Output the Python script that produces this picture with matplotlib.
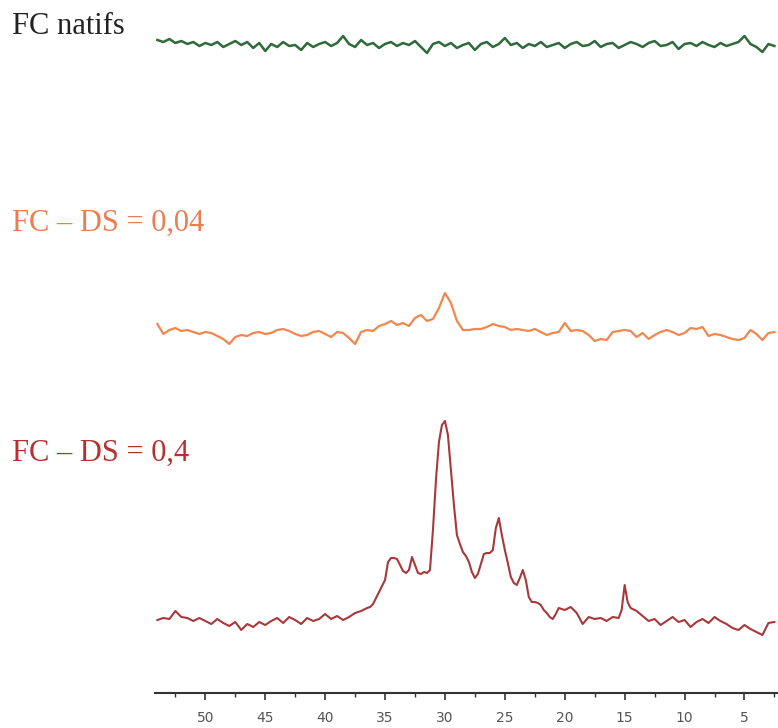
import numpy as np
import matplotlib.pyplot as plt

# 2-theta grid (deg) for the two noisy traces
theta = np.arange(54.0, 2.49, -0.5)

# FC natifs (relative intensity, a.u.)
native = [5, 3, 6, 2, 4, 1, 3, -1, 2, 0, 3, -2, 1, 4, 0, 3, -3, 2, -6, 1,
          -2, 3, -1, 0, -5, 2, -2, 1, 3, -1, 2, 9, 1, -2, 5, 0, 2, -3, 1, 3,
          -1, 2, 0, 4, -2, -8, 1, 3, -1, 2, -3, 0, 2, -5, 1, 3, -2, 1, 7, 0,
          2, -3, 1, -1, 3, -2, 0, 2, -3, 1, 3, -1, 0, 4, -2, 1, 2, -3, 0, 3,
          1, -2, 2, 4, -1, 0, 3, -4, 1, 2, -1, 3, 0, -2, 2, -1, 1, 3, 9, 1,
          -2, -7, 1, -1]

# FC - DS = 0,04
ds004 = [9, -1, 3, 5, 2, 3, 1, -1, 1, 0, -3, -6, -11, -4, -2, -3, 0, 1, -1, 0,
         3, 4, 2, -1, -3, -2, 1, 2, -1, -4, 1, 0, -5, -11, 1, 3, 2, 7, 9, 12,
         8, 10, 7, 15, 18, 12, 14, 25, 40, 30, 12, 3, 3, 4, 4, 6, 9, 7, 6, 3,
         4, 3, 2, 4, 1, -2, 0, 1, 10, 2, 3, 2, -2, -8, -6, -7, 1, 2, 3, 2,
         -4, 0, -6, -2, 1, 3, 1, -2, 0, 5, 4, 6, -3, -1, -2, -4, -6, -7, -5, 3,
         -1, -7, 0, 1]

# FC - DS = 0,4 (denser sampling around the crystalline peaks)
theta_04 = [54, 53.5, 53, 52.5, 52, 51.5, 51, 50.5, 50, 49.5, 49, 48.5, 48,
            47.5, 47, 46.5, 46, 45.5, 45, 44.5, 44, 43.5, 43, 42.5, 42, 41.5,
            41, 40.5, 40, 39.5, 39, 38.5, 38, 37.5, 37, 36.5,
            36.25, 36, 35.75, 35.5, 35.25, 35, 34.75, 34.5, 34.25, 34, 33.75,
            33.5, 33.25, 33, 32.75, 32.5, 32.25, 32, 31.75, 31.5, 31.25, 31,
            30.75, 30.5, 30.25, 30, 29.75, 29.5, 29.25, 29, 28.75, 28.5, 28.25,
            28, 27.75, 27.5, 27.25, 27, 26.75, 26.5, 26.25, 26, 25.75, 25.5,
            25.25, 25, 24.75, 24.5, 24.25, 24, 23.75, 23.5, 23.25, 23, 22.75,
            22.5, 22.25, 22, 21.75, 21.5, 21.25, 21, 20.75, 20.5,
            20, 19.5, 19, 18.5, 18, 17.5, 17, 16.5, 16, 15.5, 15.25, 15, 14.75,
            14.5, 14, 13.5, 13, 12.5, 12, 11.5, 11, 10.5, 10, 9.5, 9, 8.5, 8,
            7.5, 7, 6.5, 6, 5.5, 5, 4.5, 4, 3.5, 3, 2.5]
ds04 = [0, 2, 1, 9, 3, 2, -1, 2, -1, -4, 1, -3, -6, -2, -10, -4, -7, -2, -5,
        -1, 2, -3, 3, 0, -4, 2, -1, 1, 6, 1, 4, 0, 3, 7, 9, 12,
        13, 16, 22, 28, 34, 40, 58, 62, 62, 61, 55, 49, 47, 50, 63, 55, 47,
        46, 48, 47, 50, 90, 140, 178, 195, 199, 185, 150, 115, 85, 76, 68,
        64, 58, 48, 42, 46, 56, 66, 67, 67, 70, 92, 102, 85, 70, 57, 43, 37,
        35, 42, 50, 40, 23, 18, 18, 17, 15, 10, 7, 3, 1, 6, 12,
        10, 13, 7, -4, 3, 1, 2, -1, 3, 2, 10, 35, 18, 12, 9, 4, -1, 1, -5,
        -1, 3, -2, 0, -7, -2, 1, -3, 3, -1, -4, -8, -10, -5, -9, -12, -15,
        -3, -2]

labels = ["FC natifs", "FC \u2013 DS = 0,04", "FC \u2013 DS = 0,4"]

fig = plt.figure(figsize=(7.78, 7.28), dpi=100)
ax = fig.add_axes([155 / 778, 35 / 728, 623 / 778, 693 / 728])

ax.plot(theta, np.array(native) + 648, color="#2f6b3a", lw=1.8)
ax.plot(theta, np.array(ds004) + 360, color="#f2874e", lw=1.6)
ax.plot(theta_04, np.array(ds04) + 73, color="#a8383a", lw=1.5)

ax.set_xlim(54.2, 2.2)
ax.set_ylim(0, 693)
for s in ["left", "top", "right"]:
    ax.spines[s].set_visible(False)
ax.spines["bottom"].set_linewidth(1.5)
ax.spines["bottom"].set_color("#333333")
ax.set_yticks([])
ax.set_xticks(np.arange(50, 4, -5))
ax.set_xticks(np.arange(52.5, 2, -2.5), minor=True)
ax.tick_params(axis="x", which="major", length=5, width=1.2, pad=8,
               labelsize=10, labelcolor="#555555", color="#333333")
ax.tick_params(axis="x", which="minor", length=3, width=1.0, color="#333333")

colors = ["#222222", "#ea7d52", "#b5302f"]
ypos = [27, 223, 453]
for lab, c, yp in zip(labels, colors, ypos):
    fig.text(12 / 778, 1 - yp / 728, lab, color=c, fontsize=22,
             family="Liberation Serif", va="center", ha="left")

fig.savefig("out.png", dpi=100)
